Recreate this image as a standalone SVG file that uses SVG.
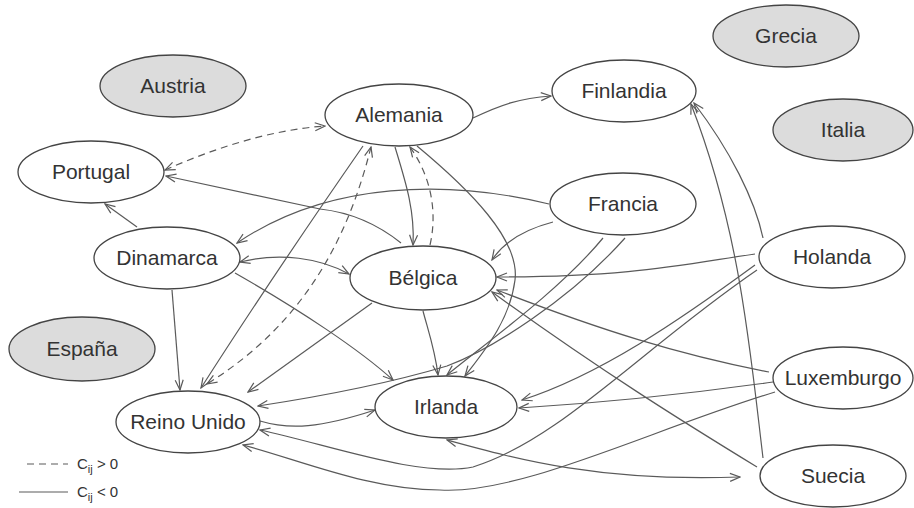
<svg xmlns="http://www.w3.org/2000/svg" width="914" height="508" viewBox="0 0 914 508">
<style>
.n ellipse{fill:#fff;stroke:#444;stroke-width:1.3}
.g ellipse{fill:#dcdcdc}
.n text{font-family:"Liberation Sans",Arial,sans-serif;font-size:21px;fill:#333;text-anchor:middle}
#edges path{fill:none;stroke:#5a5a5a;stroke-width:1.2;marker-end:url(#ah)}
#edges path.d{stroke-dasharray:7 5}
#edges path.b{marker-start:url(#ah)}
.lg{font-family:"Liberation Sans",Arial,sans-serif;font-size:15px;fill:#333}
</style>
<defs>
<marker id="ah" viewBox="0 0 12 10" refX="11" refY="5" markerWidth="12" markerHeight="10" orient="auto-start-reverse" markerUnits="userSpaceOnUse">
<path d="M1,1 L11,5 L1,9" fill="none" stroke="#5a5a5a" stroke-width="1.2"/>
</marker>
</defs>
<rect width="914" height="508" fill="#fff"/>
<g id="edges">
<path class="d b" d="M165,170 C215,148 270,130 325,126"/>
<path d="M473,118 C500,105 520,98 551,96"/>
<path d="M401,243 Q365,214 320,209 L166,176"/>
<path d="M549,204 C450,180 330,180 237,243"/>
<path d="M137,227 L105,204"/>
<path class="b" d="M240,262 C280,252 320,258 349,274"/>
<path d="M172,290 L180,390"/>
<path d="M235,273 C300,310 360,350 393,380"/>
<path d="M363,146 Q270,280 201,388"/>
<path class="d b" d="M371,147 C350,230 310,320 207,384"/>
<path d="M395,147 C405,180 415,210 413,245"/>
<path class="d" d="M430,245 C438,210 430,175 410,147"/>
<path d="M417,146 C470,190 520,240 515,280 C510,320 485,350 465,376"/>
<path d="M553,222 C530,228 505,240 492,260"/>
<path d="M755,254 C680,265 630,277 497,277"/>
<path d="M603,238 C560,290 490,340 447,375"/>
<path d="M625,238 C570,300 490,350 447,366 C400,380 330,395 258,406"/>
<path d="M423,311 C428,330 435,350 438,375"/>
<path d="M372,303 L248,392"/>
<path d="M260,421 C290,430 320,428 375,410"/>
<path d="M755,265 C680,320 600,375 522,400"/>
<path d="M757,270 C640,350 560,440 473,467 C420,478 330,445 260,430"/>
<path d="M769,372 C680,355 600,330 497,290"/>
<path d="M773,382 C680,395 600,403 519,408"/>
<path d="M775,392 C650,430 520,495 440,490 C370,490 300,460 243,445"/>
<path d="M763,458 C750,350 740,230 691,104"/>
<path d="M763,238 C755,200 730,150 694,103"/>
<path d="M757,467 C680,420 600,370 492,292"/>
<path class="b" d="M447,440 C520,460 600,482 740,477"/>
</g>
<g id="austria" class="n g"><ellipse cx="173" cy="86" rx="73" ry="31"/><text x="173" y="93">Austria</text></g>
<g id="grecia" class="n g"><ellipse cx="786" cy="36" rx="73" ry="31"/><text x="786" y="43">Grecia</text></g>
<g id="italia" class="n g"><ellipse cx="843" cy="130" rx="70" ry="31"/><text x="843" y="137">Italia</text></g>
<g id="espana" class="n g"><ellipse cx="82" cy="349" rx="73" ry="32"/><text x="82" y="356">España</text></g>
<g id="finlandia" class="n"><ellipse cx="624" cy="91" rx="72" ry="31"/><text x="624" y="98">Finlandia</text></g>
<g id="alemania" class="n"><ellipse cx="399" cy="115" rx="74" ry="31"/><text x="399" y="122">Alemania</text></g>
<g id="portugal" class="n"><ellipse cx="91" cy="172" rx="73" ry="31"/><text x="91" y="179">Portugal</text></g>
<g id="francia" class="n"><ellipse cx="623" cy="204" rx="73" ry="31"/><text x="623" y="211">Francia</text></g>
<g id="dinamarca" class="n"><ellipse cx="167" cy="258" rx="73" ry="31"/><text x="167" y="265">Dinamarca</text></g>
<g id="belgica" class="n"><ellipse cx="423" cy="278" rx="73" ry="32"/><text x="423" y="285">Bélgica</text></g>
<g id="holanda" class="n"><ellipse cx="832" cy="257" rx="73" ry="31"/><text x="832" y="264">Holanda</text></g>
<g id="luxemburgo" class="n"><ellipse cx="843" cy="378" rx="70" ry="31"/><text x="843" y="385">Luxemburgo</text></g>
<g id="reinounido" class="n"><ellipse cx="188" cy="422" rx="72" ry="31"/><text x="188" y="429">Reino Unido</text></g>
<g id="irlanda" class="n"><ellipse cx="446" cy="407" rx="71" ry="31"/><text x="446" y="414">Irlanda</text></g>
<g id="suecia" class="n"><ellipse cx="833" cy="476" rx="73" ry="31"/><text x="833" y="483">Suecia</text></g>
<g id="legend">
<line x1="27" y1="464" x2="68" y2="464" stroke="#5a5a5a" stroke-width="1.2" stroke-dasharray="7 5"/>
<text class="lg" x="77" y="469">C<tspan font-size="11" dy="4">ij</tspan><tspan dy="-4"> &gt; 0</tspan></text>
<line x1="19" y1="492" x2="68" y2="492" stroke="#5a5a5a" stroke-width="1.2"/>
<text class="lg" x="77" y="497">C<tspan font-size="11" dy="4">ij</tspan><tspan dy="-4"> &lt; 0</tspan></text>
</g>
</svg>
